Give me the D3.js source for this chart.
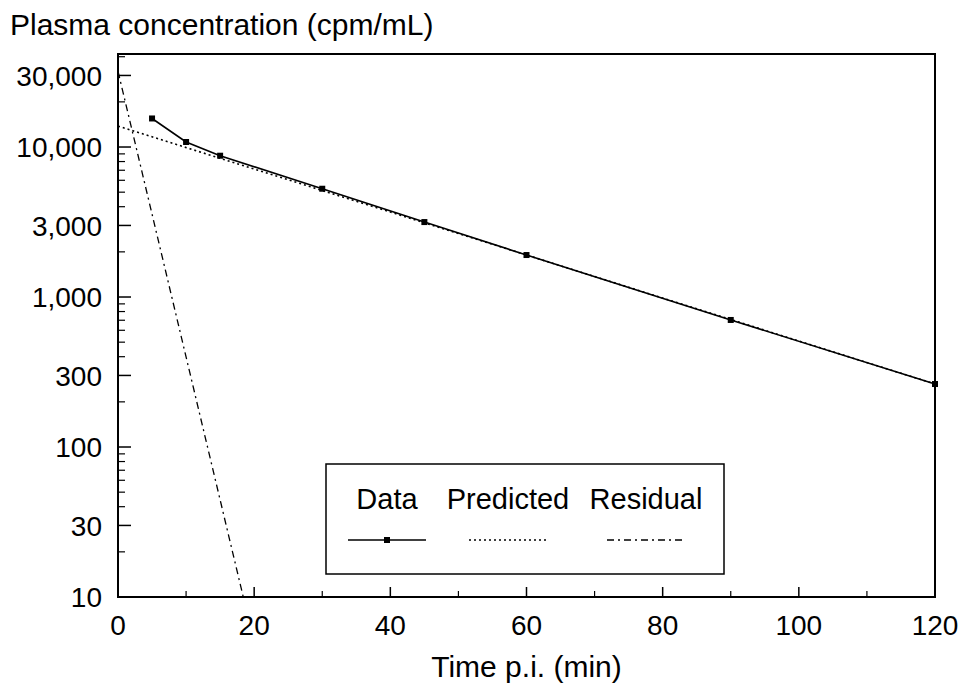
<!DOCTYPE html>
<html>
<head>
<meta charset="utf-8">
<script src="https://cdn.jsdelivr.net/npm/d3@7"></script>
<style>
  body { margin: 0; background: #fff; }
  svg { display: block; font-family: Arial, "Liberation Sans", sans-serif; }
</style>
</head>
<body>
<svg id="chart" width="964" height="686"></svg>
<script>
// measured data (time in min, plasma conc in cpm/mL)
const times = [5, 10, 15, 30, 45, 60, 90, 120];
const conc = [15500, 10800, 8750, 5270, 3160, 1905, 703, 263];

// fitted lines, end points only (straight on a log axis)
const predTimes = [0, 120];
const predConc = [13800, 263];
const residTimes = [0, 18.4];
const residConc = [32000, 10];

const xTicks = [0, 20, 40, 60, 80, 100, 120];
const xMinor = [10, 30, 50, 70, 90, 110];
const yTicks = [10, 30, 100, 300, 1000, 3000, 10000, 30000];
const yMinor = [20, 40, 50, 60, 70, 80, 90,
  200, 400, 500, 600, 700, 800, 900,
  2000, 4000, 5000, 6000, 7000, 8000, 9000,
  20000, 40000];
const legendLabels = ['Data', 'Predicted', 'Residual'];

const margin = {top: 54, right: 29, bottom: 89, left: 118};
const width = 964 - margin.left - margin.right;
const height = 686 - margin.top - margin.bottom;

const svg = d3.select('#chart');
const g = svg.append('g')
  .attr('transform', 'translate(' + margin.left + ',' + margin.top + ')');

const x = d3.scaleLinear().domain([0, 120]).range([0, width]);
const y = d3.scaleLog().domain([10, 41700]).range([height, 0]);

const fmt = d3.format(',');

// frame
g.append('rect')
  .attr('width', width)
  .attr('height', height)
  .attr('fill', 'none')
  .attr('stroke', '#000')
  .attr('stroke-width', 2);

// y ticks (inward)
g.selectAll('.ytick').data(yTicks).enter().append('line')
  .attr('x1', 0).attr('x2', 13)
  .attr('y1', d => y(d)).attr('y2', d => y(d))
  .attr('stroke', '#000').attr('stroke-width', 1.5);
g.selectAll('.yminor').data(yMinor.filter(d => y(d) > 0)).enter().append('line')
  .attr('x1', 0).attr('x2', 7)
  .attr('y1', d => y(d)).attr('y2', d => y(d))
  .attr('stroke', '#000').attr('stroke-width', 1.2);
g.selectAll('.ylab').data(yTicks).enter().append('text')
  .attr('x', -16)
  .attr('y', d => y(d))
  .attr('dy', '0.36em')
  .attr('text-anchor', 'end')
  .style('font-size', '28px')
  .text(d => fmt(d));

// x ticks (inward)
g.selectAll('.xtick').data(xTicks).enter().append('line')
  .attr('x1', d => x(d)).attr('x2', d => x(d))
  .attr('y1', height).attr('y2', height - 10)
  .attr('stroke', '#000').attr('stroke-width', 1.5);
g.selectAll('.xminor').data(xMinor).enter().append('line')
  .attr('x1', d => x(d)).attr('x2', d => x(d))
  .attr('y1', height).attr('y2', height - 6)
  .attr('stroke', '#000').attr('stroke-width', 1.2);
g.selectAll('.xlab').data(xTicks).enter().append('text')
  .attr('x', d => x(d))
  .attr('y', height + 38)
  .attr('text-anchor', 'middle')
  .style('font-size', '28px')
  .text(d => d);

// lines
const line = d3.line()
  .x(d => x(d[0]))
  .y(d => y(d[1]));

g.append('path')
  .datum(predTimes.map((t, i) => [t, predConc[i]]))
  .attr('d', line)
  .attr('fill', 'none')
  .attr('stroke', '#000')
  .attr('stroke-width', 1.6)
  .attr('stroke-dasharray', '2,3');

g.append('path')
  .datum(residTimes.map((t, i) => [t, residConc[i]]))
  .attr('d', line)
  .attr('fill', 'none')
  .attr('stroke', '#000')
  .attr('stroke-width', 1.3)
  .attr('stroke-dasharray', '7,4,2,4');

g.append('path')
  .datum(times.map((t, i) => [t, conc[i]]))
  .attr('d', line)
  .attr('fill', 'none')
  .attr('stroke', '#000')
  .attr('stroke-width', 1.6);

g.selectAll('.pt').data(times).enter().append('rect')
  .attr('x', (d) => x(d) - 3)
  .attr('y', (d, i) => y(conc[i]) - 3)
  .attr('width', 6)
  .attr('height', 6)
  .attr('fill', '#000');

// axis titles
svg.append('text')
  .attr('x', 10)
  .attr('y', 35)
  .style('font-size', '30px')
  .text('Plasma concentration (cpm/mL)');

svg.append('text')
  .attr('x', margin.left + x(60))
  .attr('y', 677)
  .attr('text-anchor', 'middle')
  .style('font-size', '30px')
  .text('Time p.i. (min)');

// legend
const legend = svg.append('g')
  .attr('transform', 'translate(326,464)');
legend.append('rect')
  .attr('width', 398)
  .attr('height', 110)
  .attr('fill', '#fff')
  .attr('stroke', '#000')
  .attr('stroke-width', 1.5);
const legendX = [61, 182, 320];
legend.selectAll('.ltext').data(legendLabels).enter().append('text')
  .attr('x', (d, i) => legendX[i])
  .attr('y', 45)
  .attr('text-anchor', 'middle')
  .style('font-size', '29px')
  .text(d => d);
const dashes = [null, '2,3', '7,4,2,4'];
legend.selectAll('.lline').data(legendLabels).enter().append('line')
  .attr('x1', (d, i) => legendX[i] - 39)
  .attr('x2', (d, i) => legendX[i] + 39)
  .attr('y1', 76).attr('y2', 76)
  .attr('stroke', '#000')
  .attr('stroke-width', (d, i) => i === 0 ? 1.5 : 1.3)
  .attr('stroke-dasharray', (d, i) => dashes[i]);
legend.append('rect')
  .attr('x', legendX[0] - 3)
  .attr('y', 73)
  .attr('width', 6)
  .attr('height', 6)
  .attr('fill', '#000');
</script>
</body>
</html>
